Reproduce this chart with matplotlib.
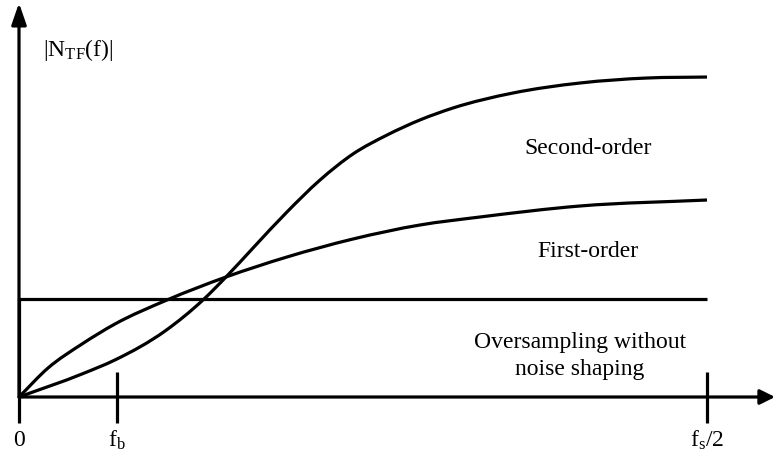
import matplotlib.pyplot as plt
import numpy as np
from matplotlib.path import Path
from matplotlib.patches import PathPatch

plt.rcParams['font.family'] = 'Liberation Serif'
plt.rcParams['mathtext.fontset'] = 'custom'
plt.rcParams['mathtext.rm'] = 'Liberation Serif'
plt.rcParams['mathtext.it'] = 'Liberation Serif'

# frequency normalised to fs/2, magnitude normalised to the flat (no shaping) level
f_first = [0, 0.0422, 0.0916, 0.1395, 0.2151, 0.3009, 0.3895, 0.4855, 0.5828, 0.6701, 0.8154, 1.0]
ntf_first = [0, 0.2959, 0.5408, 0.7449, 0.9898, 1.2245, 1.4286, 1.6122, 1.7551, 1.8367,
             1.9490, 2.0102]

f_second = [0, 0.0916, 0.1395, 0.2122, 0.2674, 0.3023, 0.3401, 0.3895, 0.4375, 0.4855,
            0.5349, 0.5828, 0.6308, 0.7180, 0.8154, 0.9128, 1.0]
ntf_second = [0, 0.235, 0.378, 0.673, 0.990, 1.235, 1.520, 1.888, 2.214, 2.480, 2.673,
              2.827, 2.949, 3.102, 3.204, 3.255, 3.265]

f_flat = [0, 0, 1.0]
ntf_flat = [0, 1.0, 1.0]

f_ticks = [0, 0.1424, 1.0]
tick_labels = ['0', r'$\mathrm{f_b}$', r'$\mathrm{f_s/2}$']

curve_labels = ['Second-order', 'First-order', 'Oversampling without\nnoise shaping']
label_pos = [(0.827, 2.54), (0.827, 1.48), (0.8154, 0.42)]


def smooth_path(xs, ys):
    # cubic Hermite through the points (slopes from neighbouring points), as Bezier segments
    x = np.asarray(xs, float)
    y = np.asarray(ys, float)
    m = np.gradient(y, x)
    verts = [(x[0], y[0])]
    codes = [Path.MOVETO]
    for i in range(len(x) - 1):
        h = x[i + 1] - x[i]
        verts += [(x[i] + h / 3, y[i] + m[i] * h / 3),
                  (x[i + 1] - h / 3, y[i + 1] - m[i + 1] * h / 3),
                  (x[i + 1], y[i + 1])]
        codes += [Path.CURVE4] * 3
    return Path(verts, codes)


fig = plt.figure(figsize=(7.75, 4.55), dpi=100)
ax = fig.add_axes([0, 0, 1, 1])
ax.set_xlim(-19 / 688, 756 / 688)
ax.set_ylim(-58 / 98, 397 / 98)
ax.axis('off')

lw = 2.3
for xs, ys in [(f_second, ntf_second), (f_first, ntf_first)]:
    ax.add_patch(PathPatch(smooth_path(xs, ys), facecolor='none', edgecolor='black',
                           lw=lw, capstyle='butt'))
ax.plot(f_flat, ntf_flat, color='black', lw=lw, solid_capstyle='butt', solid_joinstyle='miter')

# axes with arrow heads
ax.annotate('', xy=(756 / 688, 0), xytext=(0, 0),
            arrowprops=dict(arrowstyle='-|>,head_length=0.9,head_width=0.45',
                            color='black', lw=lw, shrinkA=0, shrinkB=0))
ax.annotate('', xy=(0, 394 / 98), xytext=(0, 0),
            arrowprops=dict(arrowstyle='-|>,head_length=1.3,head_width=0.45',
                            color='black', lw=lw, shrinkA=0, shrinkB=0))

# frequency ticks
for fx, lab in zip(f_ticks, tick_labels):
    ax.plot([fx, fx], [-26 / 98, 25 / 98 if fx > 0 else 0], color='black', lw=lw,
            solid_capstyle='butt')
    ax.text(fx, -43 / 98, lab, ha='center', va='center', fontsize=17)

ax.text(24 / 688, 347 / 98, r'$|\mathrm{N_{TF}(f)}|$', ha='left', va='center', fontsize=17)

for lab, (tx, ty) in zip(curve_labels, label_pos):
    ax.text(tx, ty, lab, ha='center', va='center', fontsize=17, linespacing=1.4)

fig.savefig('out.png', dpi=100)
